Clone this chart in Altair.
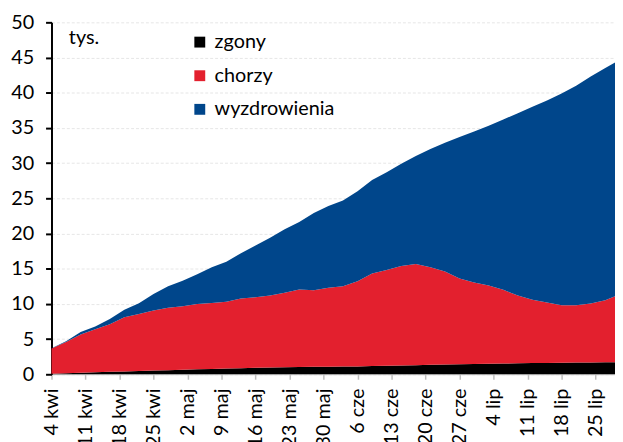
import altair as alt
import pandas as pd

# --- data (thousands of people) ---
dates = [
    "2020-04-04", "2020-04-07", "2020-04-10", "2020-04-13", "2020-04-16",
    "2020-04-19", "2020-04-22", "2020-04-25", "2020-04-28", "2020-05-01",
    "2020-05-04", "2020-05-07", "2020-05-10", "2020-05-13", "2020-05-16",
    "2020-05-19", "2020-05-22", "2020-05-25", "2020-05-28", "2020-05-31",
    "2020-06-03", "2020-06-06", "2020-06-09", "2020-06-12", "2020-06-15",
    "2020-06-18", "2020-06-21", "2020-06-24", "2020-06-27", "2020-06-30",
    "2020-07-03", "2020-07-06", "2020-07-09", "2020-07-12", "2020-07-15",
    "2020-07-18", "2020-07-21", "2020-07-24", "2020-07-27", "2020-07-29",
]
zgony = [
    0.08, 0.15, 0.22, 0.30, 0.36, 0.41, 0.45, 0.52, 0.58, 0.64,
    0.70, 0.76, 0.81, 0.86, 0.91, 0.96, 1.00, 1.04, 1.06, 1.07,
    1.09, 1.12, 1.16, 1.20, 1.25, 1.30, 1.35, 1.39, 1.44, 1.47,
    1.50, 1.53, 1.56, 1.60, 1.62, 1.64, 1.66, 1.68, 1.70, 1.71,
]
chorzy = [
    3.58, 4.42, 5.43, 6.10, 6.74, 7.69, 8.10, 8.53, 8.87, 9.01,
    9.30, 9.36, 9.49, 9.89, 10.04, 10.24, 10.60, 11.01, 10.89, 11.23,
    11.41, 12.08, 13.14, 13.60, 14.15, 14.35, 13.85, 13.21, 12.16, 11.58,
    11.10, 10.47, 9.64, 9.00, 8.58, 8.16, 8.14, 8.37, 8.80, 9.39,
]
wyzdrowienia = [
    0.04, 0.13, 0.35, 0.40, 0.75, 1.05, 1.55, 2.35, 3.05, 3.65,
    4.20, 5.08, 5.70, 6.45, 7.35, 8.20, 9.00, 9.60, 10.95, 11.60,
    12.20, 12.80, 13.30, 13.90, 14.50, 15.35, 16.80, 18.30, 20.10, 21.45,
    22.70, 24.20, 25.90, 27.40, 28.70, 30.10, 31.20, 32.25, 33.00, 33.20,
]

series_names = ["zgony", "chorzy", "wyzdrowienia"]
series_colors = ["#000000", "#E3202E", "#00468B"]
tick_dates = [
    "2020-04-04", "2020-04-11", "2020-04-18", "2020-04-25", "2020-05-02",
    "2020-05-09", "2020-05-16", "2020-05-23", "2020-05-30", "2020-06-06",
    "2020-06-13", "2020-06-20", "2020-06-27", "2020-07-04", "2020-07-11",
    "2020-07-18", "2020-07-25",
]
month_abbr = ["sty", "lut", "mar", "kwi", "maj", "cze", "lip", "sie", "wrz", "paź", "lis", "gru"]
y_ticks = list(range(0, 51, 5))

rows = []
for name, vals, o in zip(series_names, [zgony, chorzy, wyzdrowienia], range(3)):
    for d, v in zip(dates, vals):
        rows.append({"data": d, "seria": name, "wartosc": v, "ord": o})
df = pd.DataFrame(rows)


def dt(s):
    y, m, d = (int(p) for p in s.split("-"))
    return alt.DateTime(year=y, month=m, date=d, utc=True)


FONT = "Lato"
label_expr = ("utcdate(datum.value) + ' ' + " + str(month_abbr).replace('"', "'")
              + "[utcmonth(datum.value)]")

chart = alt.Chart(df).mark_area(interpolate="linear").encode(
    x=alt.X(
        "data:T",
        scale=alt.Scale(type="utc", domain=[dt(dates[0]), dt(dates[-1])], nice=False),
        axis=alt.Axis(
            values=[dt(s) for s in tick_dates],
            labelExpr=label_expr,
            labelAngle=270,
            labelAlign="right",
            labelBaseline="middle",
            labelFontSize=20,
            labelFont=FONT,
            labelColor="black",
            labelPadding=9,
            labelOverlap=False,
            labelFlush=False,
            tickSize=5,
            tickColor="#bfbfbf",
            tickWidth=1.5,
            domainColor="#d0d0d0",
            grid=False,
            title=None,
        ),
    ),
    y=alt.Y(
        "wartosc:Q",
        stack="zero",
        scale=alt.Scale(domain=[0, 50], nice=False),
        axis=alt.Axis(
            values=y_ticks,
            labelFontSize=20,
            labelFont=FONT,
            labelColor="black",
            labelPadding=12,
            tickSize=6,
            tickWidth=2,
            tickColor="black",
            domainColor="black",
            domainWidth=2,
            grid=True,
            gridColor="#e6e6e6",
            gridDash=[3, 2],
            title="tys.",
            titleAngle=0,
            titleX=17,
            titleY=21,
            titleAlign="left",
            titleBaseline="alphabetic",
            titleFontSize=20,
            titleFont=FONT,
            titleFontWeight="normal",
            titleColor="black",
        ),
    ),
    color=alt.Color(
        "seria:N",
        scale=alt.Scale(domain=series_names, range=series_colors),
        legend=alt.Legend(
            title=None,
            orient="none",
            legendX=140,
            legendY=10,
            symbolType="square",
            symbolSize=121,
            symbolStrokeWidth=0,
            symbolOpacity=1,
            labelFontSize=20,
            labelFont=FONT,
            labelColor="black",
            labelOffset=5,
            rowPadding=14,
            padding=0,
        ),
    ),
    order=alt.Order("ord:Q"),
).properties(
    width=570,
    height=356,
    padding={"left": 44, "top": 12, "right": 0, "bottom": 66},
    autosize=alt.AutoSizeParams(type="none"),
).configure_view(stroke=None)

chart.save("out.html", embed_options={"renderer": "svg", "actions": False})
